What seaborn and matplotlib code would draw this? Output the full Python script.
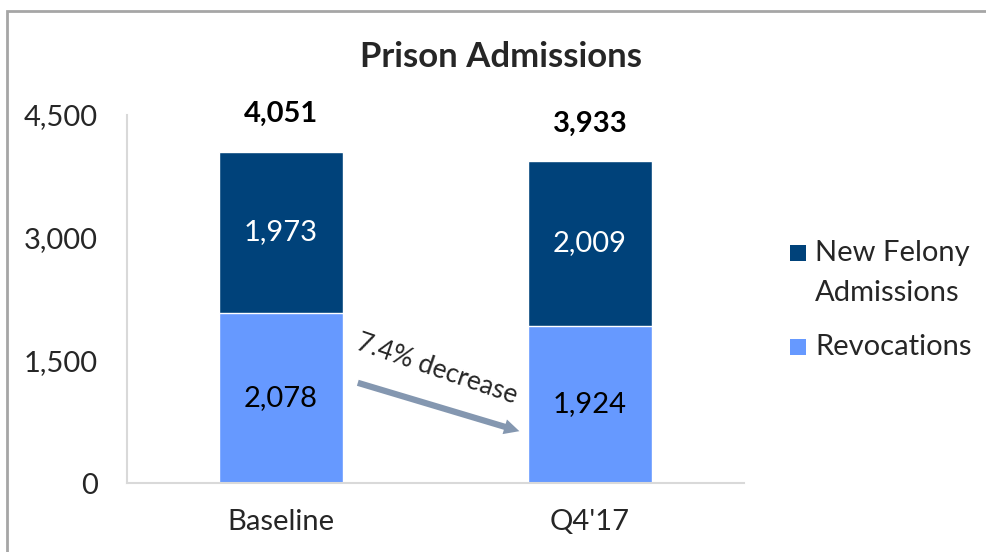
import matplotlib
matplotlib.use('Agg')
import matplotlib.pyplot as plt
import matplotlib.patches as mpatches
import seaborn as sns
import pandas as pd

periods = ['Baseline', "Q4'17"]
revocations = [2078, 1924]
new_felony = [1973, 2009]
totals = [r + n for r, n in zip(revocations, new_felony)]
series_labels = ['New Felony\nAdmissions', 'Revocations']
y_ticks = [0, 1500, 3000, 4500]

dark_blue = '#00427A'
light_blue = '#6699FF'

sns.set_style('white')
plt.rcParams['font.family'] = ['Lato', 'DejaVu Sans']

df = pd.DataFrame({'period': periods, 'rev': revocations, 'felony': new_felony, 'total': totals})

fig = plt.figure(figsize=(9.87, 5.52), dpi=100)
ax = fig.add_axes([127 / 987, 69 / 552, (744 - 127) / 987, 368 / 552])

# stacked bars: total in dark, revocations drawn over it in light
sns.barplot(data=df, x='period', y='total', color=dark_blue, saturation=1, width=0.4, ax=ax)
sns.barplot(data=df, x='period', y='rev', color=light_blue, saturation=1, width=0.4, ax=ax)

for i in range(len(periods)):
    ax.text(i, revocations[i] / 2, f'{revocations[i]:,}', ha='center', va='center',
            fontsize=21, color='black')
    ax.text(i, revocations[i] + new_felony[i] / 2, f'{new_felony[i]:,}', ha='center',
            va='center', fontsize=21, color='white')
    ax.text(i, totals[i] + 460, f'{totals[i]:,}', ha='center', va='center',
            fontsize=21, fontweight='bold', color='black')

ax.set_xlim(-0.498, 1.498)
ax.set_ylim(0, 4500)
ax.set_yticks(y_ticks)
ax.set_yticklabels([f'{v:,}' for v in y_ticks])
ax.set_xlabel('')
ax.set_ylabel('')
ax.tick_params(axis='y', labelsize=21, length=7, color='#D9D9D9', width=1.5, pad=14)
ax.tick_params(axis='x', labelsize=21, length=0, pad=19)
for s in ['top', 'right']:
    ax.spines[s].set_visible(False)
for s in ['left', 'bottom']:
    ax.spines[s].set_color('#D9D9D9')
    ax.spines[s].set_linewidth(1.5)

# arrow + note
ax.annotate('', xy=(0.78, 624), xytext=(0.24, 1235),
            arrowprops=dict(arrowstyle='simple,head_length=1.1,head_width=1.1,tail_width=0.45',
                            color='#8497B0', lw=0))
ax.text(0.505, 1390, '7.4% decrease', rotation=-19, ha='center', va='center', fontsize=19,
        rotation_mode='anchor')

fig.text(0.508, 0.897, 'Prison Admissions', ha='center', va='center', fontsize=25,
         fontweight='bold')

# legend drawn by hand so the two-line label spacing matches
W, H = 987, 552
legend_colors = [dark_blue, light_blue]
legend_rows = [253, 347]
for lab, col, yc in zip(series_labels, legend_colors, legend_rows):
    fig.patches.append(mpatches.Rectangle((790 / W, 1 - (yc + 8) / H), 16 / W, 16 / H,
                                          facecolor=col, edgecolor='none',
                                          transform=fig.transFigure, figure=fig))
    for k, line in enumerate(lab.split('\n')):
        fig.text(815 / W, 1 - (yc + 40 * k) / H, line, ha='left', va='center', fontsize=21)

top = 1 - 11 / H
fig.patches.append(mpatches.Rectangle((7 / W, -0.05), 1.1, top + 0.05, fill=False,
                                      edgecolor='#A6A6A6', linewidth=2, transform=fig.transFigure,
                                      figure=fig))

fig.savefig('out.png', dpi=100)
